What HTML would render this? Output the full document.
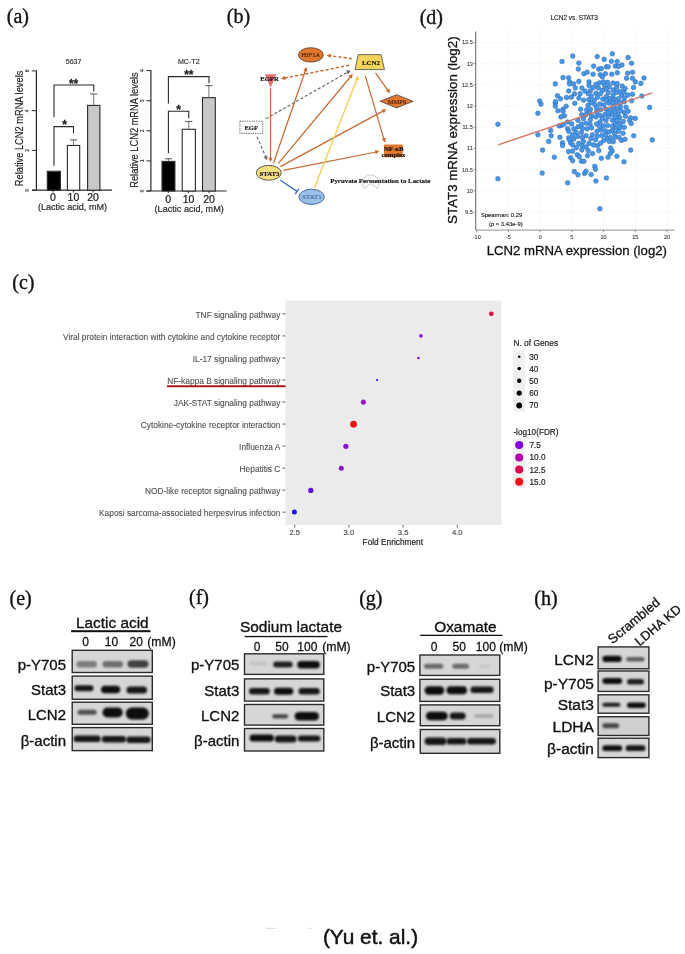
<!DOCTYPE html>
<html><head><meta charset="utf-8"><style>
html,body{margin:0;padding:0;background:#fff;}
svg{display:block;will-change:transform;}
</style></head><body>
<svg width="685" height="954" viewBox="0 0 685 954">
<rect width="685" height="954" fill="#fff"/>
<text x="6.8" y="23.4" font-family='"Liberation Serif", serif' font-size="20" font-weight="normal" text-anchor="start" fill="#111" stroke="#111" stroke-width="0.35" >(a)</text>
<text x="226.8" y="23.4" font-family='"Liberation Serif", serif' font-size="20" font-weight="normal" text-anchor="start" fill="#111" stroke="#111" stroke-width="0.35" >(b)</text>
<text x="12.3" y="289" font-family='"Liberation Serif", serif' font-size="20" font-weight="normal" text-anchor="start" fill="#111" stroke="#111" stroke-width="0.35" >(c)</text>
<text x="419.7" y="23.6" font-family='"Liberation Serif", serif' font-size="20" font-weight="normal" text-anchor="start" fill="#111" stroke="#111" stroke-width="0.35" >(d)</text>
<text x="9.5" y="604.6" font-family='"Liberation Serif", serif' font-size="20" font-weight="normal" text-anchor="start" fill="#111" stroke="#111" stroke-width="0.35" >(e)</text>
<text x="189.0" y="604.3" font-family='"Liberation Serif", serif' font-size="20" font-weight="normal" text-anchor="start" fill="#111" stroke="#111" stroke-width="0.35" >(f)</text>
<text x="359.2" y="604.5" font-family='"Liberation Serif", serif' font-size="20" font-weight="normal" text-anchor="start" fill="#111" stroke="#111" stroke-width="0.35" >(g)</text>
<text x="534.3" y="604.6" font-family='"Liberation Serif", serif' font-size="20" font-weight="normal" text-anchor="start" fill="#111" stroke="#111" stroke-width="0.35" >(h)</text>
<line x1="36.4" y1="70.4" x2="36.4" y2="190.2" stroke="#2a2a2a" stroke-width="1.2" />
<line x1="32" y1="190.2" x2="112.0" y2="190.2" stroke="#2a2a2a" stroke-width="1.2" />
<line x1="31.9" y1="190.2" x2="36.4" y2="190.2" stroke="#2a2a2a" stroke-width="1.0" />
<text x="0" y="0" transform="translate(29.1,190.2) rotate(-90)" font-family='"Liberation Sans", sans-serif' font-size="5.2" font-weight="bold" text-anchor="middle" fill="#333">0</text>
<line x1="31.9" y1="150.43333333333334" x2="36.4" y2="150.43333333333334" stroke="#2a2a2a" stroke-width="1.0" />
<text x="0" y="0" transform="translate(29.1,150.4) rotate(-90)" font-family='"Liberation Sans", sans-serif' font-size="5.2" font-weight="bold" text-anchor="middle" fill="#333">2</text>
<line x1="31.9" y1="110.66666666666667" x2="36.4" y2="110.66666666666667" stroke="#2a2a2a" stroke-width="1.0" />
<text x="0" y="0" transform="translate(29.1,110.7) rotate(-90)" font-family='"Liberation Sans", sans-serif' font-size="5.2" font-weight="bold" text-anchor="middle" fill="#333">4</text>
<line x1="31.9" y1="70.9" x2="36.4" y2="70.9" stroke="#2a2a2a" stroke-width="1.0" />
<text x="0" y="0" transform="translate(29.1,70.9) rotate(-90)" font-family='"Liberation Sans", sans-serif' font-size="5.2" font-weight="bold" text-anchor="middle" fill="#333">6</text>
<rect x="47.3" y="171.31083333333333" width="13.100000000000001" height="18.889166666666654" fill="#000" stroke="#2a2a2a" stroke-width="1.1"/>
<line x1="53.849999999999994" y1="171.31083333333333" x2="53.849999999999994" y2="171.31083333333333" stroke="#666" stroke-width="0.9" />
<line x1="50.24999999999999" y1="171.31083333333333" x2="57.449999999999996" y2="171.31083333333333" stroke="#555" stroke-width="1.0" />
<rect x="67.4" y="145.4625" width="12.299999999999997" height="44.73749999999998" fill="#fff" stroke="#2a2a2a" stroke-width="1.1"/>
<line x1="73.55000000000001" y1="145.4625" x2="73.55000000000001" y2="139.89516666666668" stroke="#666" stroke-width="0.9" />
<line x1="69.95000000000002" y1="139.89516666666668" x2="77.15" y2="139.89516666666668" stroke="#555" stroke-width="1.0" />
<rect x="87.6" y="105.39758333333334" width="12.300000000000011" height="84.80241666666664" fill="#c8c8c8" stroke="#2a2a2a" stroke-width="1.1"/>
<line x1="93.75" y1="105.39758333333334" x2="93.75" y2="93.96466666666667" stroke="#666" stroke-width="0.9" />
<line x1="90.15" y1="93.96466666666667" x2="97.35" y2="93.96466666666667" stroke="#555" stroke-width="1.0" />
<polyline points="54.0,165.8 54.0,126.6 73.5,126.6 73.5,133.4" fill="none" stroke="#2a2a2a" stroke-width="1.1"/>
<text x="64.6" y="129.3" font-family='"Liberation Sans", sans-serif' font-size="12" font-weight="bold" text-anchor="middle" fill="#222" stroke="#222" stroke-width="0.264" >*</text>
<polyline points="54.0,117.2 54.0,85.0 93.8,85.0 93.8,91.4" fill="none" stroke="#2a2a2a" stroke-width="1.1"/>
<text x="73.6" y="87.6" font-family='"Liberation Sans", sans-serif' font-size="12" font-weight="bold" text-anchor="middle" fill="#222" stroke="#222" stroke-width="0.264" >**</text>
<text x="73.6" y="63.9" font-family='"Liberation Sans", sans-serif' font-size="7.1" font-weight="normal" text-anchor="middle" fill="#333" stroke="#333" stroke-width="0.156" >5637</text>
<text x="53.0" y="201.3" font-family='"Liberation Sans", sans-serif' font-size="10.5" font-weight="normal" text-anchor="middle" fill="#1a1a1a" stroke="#1a1a1a" stroke-width="0.231" >0</text>
<line x1="53.0" y1="190.2" x2="53.0" y2="192.39999999999998" stroke="#2a2a2a" stroke-width="1.0" />
<text x="73.4" y="201.3" font-family='"Liberation Sans", sans-serif' font-size="10.5" font-weight="normal" text-anchor="middle" fill="#1a1a1a" stroke="#1a1a1a" stroke-width="0.231" >10</text>
<line x1="73.4" y1="190.2" x2="73.4" y2="192.39999999999998" stroke="#2a2a2a" stroke-width="1.0" />
<text x="93.1" y="201.3" font-family='"Liberation Sans", sans-serif' font-size="10.5" font-weight="normal" text-anchor="middle" fill="#1a1a1a" stroke="#1a1a1a" stroke-width="0.231" >20</text>
<line x1="93.1" y1="190.2" x2="93.1" y2="192.39999999999998" stroke="#2a2a2a" stroke-width="1.0" />
<text x="72.5" y="210.2" font-family='"Liberation Sans", sans-serif' font-size="9.1" font-weight="normal" text-anchor="middle" fill="#2a2a2a" stroke="#2a2a2a" stroke-width="0.2" >(Lactic acid, mM)</text>
<text x="0" y="0" transform="translate(23.0,128.4) rotate(-90)" font-family='"Liberation Sans", sans-serif' font-size="10" text-anchor="middle" textLength="115.5" lengthAdjust="spacingAndGlyphs" fill="#1a1a1a" stroke="#1a1a1a" stroke-width="0.15">Relative LCN2 mRNA levels</text>
<line x1="150.9" y1="70.1" x2="150.9" y2="191.0" stroke="#2a2a2a" stroke-width="1.2" />
<line x1="146.5" y1="191.0" x2="226.5" y2="191.0" stroke="#2a2a2a" stroke-width="1.2" />
<line x1="146.4" y1="191.0" x2="150.9" y2="191.0" stroke="#2a2a2a" stroke-width="1.0" />
<text x="0" y="0" transform="translate(143.6,191.0) rotate(-90)" font-family='"Liberation Sans", sans-serif' font-size="5.2" font-weight="bold" text-anchor="middle" fill="#333">0</text>
<line x1="146.4" y1="160.9" x2="150.9" y2="160.9" stroke="#2a2a2a" stroke-width="1.0" />
<text x="0" y="0" transform="translate(143.6,160.9) rotate(-90)" font-family='"Liberation Sans", sans-serif' font-size="5.2" font-weight="bold" text-anchor="middle" fill="#333">1</text>
<line x1="146.4" y1="130.8" x2="150.9" y2="130.8" stroke="#2a2a2a" stroke-width="1.0" />
<text x="0" y="0" transform="translate(143.6,130.8) rotate(-90)" font-family='"Liberation Sans", sans-serif' font-size="5.2" font-weight="bold" text-anchor="middle" fill="#333">2</text>
<line x1="146.4" y1="100.69999999999999" x2="150.9" y2="100.69999999999999" stroke="#2a2a2a" stroke-width="1.0" />
<text x="0" y="0" transform="translate(143.6,100.7) rotate(-90)" font-family='"Liberation Sans", sans-serif' font-size="5.2" font-weight="bold" text-anchor="middle" fill="#333">3</text>
<line x1="146.4" y1="70.6" x2="150.9" y2="70.6" stroke="#2a2a2a" stroke-width="1.0" />
<text x="0" y="0" transform="translate(143.6,70.6) rotate(-90)" font-family='"Liberation Sans", sans-serif' font-size="5.2" font-weight="bold" text-anchor="middle" fill="#333">4</text>
<rect x="162.0" y="161.4117" width="12.900000000000006" height="29.588300000000004" fill="#000" stroke="#2a2a2a" stroke-width="1.1"/>
<line x1="168.45" y1="161.4117" x2="168.45" y2="158.793" stroke="#666" stroke-width="0.9" />
<line x1="164.85" y1="158.793" x2="172.04999999999998" y2="158.793" stroke="#555" stroke-width="1.0" />
<rect x="182.2" y="129.29500000000002" width="13.200000000000017" height="61.704999999999984" fill="#fff" stroke="#2a2a2a" stroke-width="1.1"/>
<line x1="188.8" y1="129.29500000000002" x2="188.8" y2="121.4088" stroke="#666" stroke-width="0.9" />
<line x1="185.20000000000002" y1="121.4088" x2="192.4" y2="121.4088" stroke="#555" stroke-width="1.0" />
<rect x="202.5" y="97.69" width="12.800000000000011" height="93.31" fill="#c8c8c8" stroke="#2a2a2a" stroke-width="1.1"/>
<line x1="208.9" y1="97.69" x2="208.9" y2="85.64999999999999" stroke="#666" stroke-width="0.9" />
<line x1="205.3" y1="85.64999999999999" x2="212.5" y2="85.64999999999999" stroke="#555" stroke-width="1.0" />
<polyline points="168.4,153.3 168.4,111.3 188.7,111.3 188.7,118.2" fill="none" stroke="#2a2a2a" stroke-width="1.1"/>
<text x="178.7" y="113.69999999999999" font-family='"Liberation Sans", sans-serif' font-size="12" font-weight="bold" text-anchor="middle" fill="#222" stroke="#222" stroke-width="0.264" >*</text>
<polyline points="168.4,103.5 168.4,76.6 209.0,76.6 209.0,83.3" fill="none" stroke="#2a2a2a" stroke-width="1.1"/>
<text x="188.8" y="79.0" font-family='"Liberation Sans", sans-serif' font-size="12" font-weight="bold" text-anchor="middle" fill="#222" stroke="#222" stroke-width="0.264" >**</text>
<text x="188.8" y="63.9" font-family='"Liberation Sans", sans-serif' font-size="7.1" font-weight="normal" text-anchor="middle" fill="#333" stroke="#333" stroke-width="0.156" >MC-T2</text>
<text x="168.2" y="202.6" font-family='"Liberation Sans", sans-serif' font-size="10.5" font-weight="normal" text-anchor="middle" fill="#1a1a1a" stroke="#1a1a1a" stroke-width="0.231" >0</text>
<line x1="168.2" y1="191.0" x2="168.2" y2="193.2" stroke="#2a2a2a" stroke-width="1.0" />
<text x="188.6" y="202.6" font-family='"Liberation Sans", sans-serif' font-size="10.5" font-weight="normal" text-anchor="middle" fill="#1a1a1a" stroke="#1a1a1a" stroke-width="0.231" >10</text>
<line x1="188.6" y1="191.0" x2="188.6" y2="193.2" stroke="#2a2a2a" stroke-width="1.0" />
<text x="209.0" y="202.6" font-family='"Liberation Sans", sans-serif' font-size="10.5" font-weight="normal" text-anchor="middle" fill="#1a1a1a" stroke="#1a1a1a" stroke-width="0.231" >20</text>
<line x1="209.0" y1="191.0" x2="209.0" y2="193.2" stroke="#2a2a2a" stroke-width="1.0" />
<text x="189.2" y="212.4" font-family='"Liberation Sans", sans-serif' font-size="9.1" font-weight="normal" text-anchor="middle" fill="#2a2a2a" stroke="#2a2a2a" stroke-width="0.2" >(Lactic acid, mM)</text>
<text x="0" y="0" transform="translate(138.0,130.0) rotate(-90)" font-family='"Liberation Sans", sans-serif' font-size="10" text-anchor="middle" textLength="115.5" lengthAdjust="spacingAndGlyphs" fill="#1a1a1a" stroke="#1a1a1a" stroke-width="0.15">Relative LCN2 mRNA levels</text>
<line x1="351.8" y1="58.7" x2="329.9" y2="55.7" stroke="#c8672e" stroke-width="1.4" stroke-dasharray="3.2,2"/>
<polygon points="326.6,55.3 331.1,53.7 330.5,58.0" fill="#c8672e"/>
<line x1="349.2" y1="65.3" x2="284.4" y2="78.1" stroke="#c8672e" stroke-width="1.4" stroke-dasharray="3.2,2"/>
<polygon points="281.1,78.7 284.8,75.7 285.6,80.0" fill="#c8672e"/>
<line x1="265.8" y1="118.8" x2="347.8" y2="72.1" stroke="#6a6a6a" stroke-width="1.2" stroke-dasharray="3,2"/>
<polygon points="350.7,70.4 348.1,74.4 346.0,70.6" fill="#6a6a6a"/>
<line x1="257.0" y1="136.8" x2="265.9" y2="157.2" stroke="#6a6a6a" stroke-width="1.2" stroke-dasharray="3,2"/>
<polygon points="267.2,160.3 263.5,157.3 267.5,155.6" fill="#6a6a6a"/>
<line x1="270.5" y1="88.2" x2="270.5" y2="158.6" stroke="#c8672e" stroke-width="1.2"/>
<polygon points="270.5,162.0 268.3,157.8 272.7,157.8" fill="#c8672e"/>
<line x1="273.6" y1="162.8" x2="305.5" y2="70.2" stroke="#c8672e" stroke-width="1.2"/>
<polygon points="306.6,67.0 307.3,71.7 303.2,70.3" fill="#c8672e"/>
<line x1="278.4" y1="163.4" x2="350.7" y2="76.5" stroke="#c8672e" stroke-width="1.2"/>
<polygon points="352.8,73.9 351.8,78.5 348.4,75.7" fill="#c8672e"/>
<line x1="280.4" y1="166.6" x2="383.4" y2="110.9" stroke="#c8672e" stroke-width="1.2"/>
<polygon points="386.4,109.3 383.8,113.2 381.7,109.4" fill="#c8672e"/>
<line x1="283.3" y1="170.3" x2="376.1" y2="152.0" stroke="#c8672e" stroke-width="1.2"/>
<polygon points="379.4,151.3 375.7,154.3 374.9,150.0" fill="#c8672e"/>
<line x1="375.5" y1="72.8" x2="388.1" y2="90.6" stroke="#c8672e" stroke-width="1.2"/>
<polygon points="390.0,93.3 385.8,91.1 389.4,88.6" fill="#c8672e"/>
<line x1="365.3" y1="75.8" x2="384.0" y2="139.3" stroke="#c8672e" stroke-width="1.2"/>
<polygon points="385.0,142.5 381.7,139.1 385.9,137.8" fill="#c8672e"/>
<line x1="314.4" y1="187.9" x2="357.0" y2="78.9" stroke="#f3cc50" stroke-width="1.3"/>
<polygon points="358.2,75.8 358.7,80.5 354.6,78.9" fill="#f3cc50"/>
<line x1="280.4" y1="180.2" x2="297.0" y2="191.4" stroke="#3c64b4" stroke-width="1.3" />
<line x1="295.2102358087309" y1="194.05268621205957" x2="298.7897641912691" y2="188.74731378794044" stroke="#3c64b4" stroke-width="1.3" />
<ellipse cx="310.9" cy="54.9" rx="12.4" ry="7.2" fill="#e0772f" stroke="#5a3418" stroke-width="0.8"/>
<text x="310.9" y="57.3" font-family='"Liberation Serif", serif' font-size="6.6" font-weight="normal" text-anchor="middle" fill="#4a2208" stroke="#4a2208" stroke-width="0.145" >HIF1A</text>
<polygon points="358.2,54.6 381,54.6 384.5,69.6 355,69.6" fill="#f6d35c" stroke="#5a5a5a" stroke-width="0.9"/>
<text x="371.0" y="64.9" font-family='"Liberation Serif", serif' font-size="6.8" font-weight="bold" text-anchor="middle" fill="#111" stroke="#111" stroke-width="0.15" textLength="18" lengthAdjust="spacingAndGlyphs">LCN2</text>
<polygon points="265,74.3 276.4,74.3 270.6,87.8" fill="#e8716c"/>
<text x="269.5" y="80.9" font-family='"Liberation Serif", serif' font-size="6.8" font-weight="bold" text-anchor="middle" fill="#111" stroke="#111" stroke-width="0.15" textLength="18.6" lengthAdjust="spacingAndGlyphs">EGFR</text>
<rect x="239.9" y="121.2" width="22.8" height="12.2" fill="#fff" stroke="#555" stroke-width="0.9" stroke-dasharray="1.3,1"/>
<text x="251.2" y="130.3" font-family='"Liberation Serif", serif' font-size="7.0" font-weight="bold" text-anchor="middle" fill="#1a1a1a" stroke="#1a1a1a" stroke-width="0.154" textLength="13.6" lengthAdjust="spacingAndGlyphs">EGF</text>
<ellipse cx="268.8" cy="172.8" rx="12.5" ry="7.4" fill="#f7df84" stroke="#4a4a3a" stroke-width="0.9"/>
<text x="269.4" y="175.5" font-family='"Liberation Serif", serif' font-size="6.6" font-weight="bold" text-anchor="middle" fill="#111" stroke="#111" stroke-width="0.145" textLength="20" lengthAdjust="spacingAndGlyphs">STAT3</text>
<ellipse cx="311.6" cy="196.8" rx="12.7" ry="7.6" fill="#98c0e8" stroke="#3c5f98" stroke-width="0.9"/>
<text x="312.0" y="199.2" font-family='"Liberation Serif", serif' font-size="7.0" font-weight="normal" text-anchor="middle" fill="#4a6a9a" stroke="#4a6a9a" stroke-width="0.154" textLength="19.5" lengthAdjust="spacingAndGlyphs">STAT1</text>
<polygon points="380.1,101.3 396.6,94.7 413.1,101.3 396.6,107.9" fill="#e0772f" stroke="#444" stroke-width="0.8"/>
<text x="397.0" y="103.6" font-family='"Liberation Serif", serif' font-size="6.5" font-weight="normal" text-anchor="middle" fill="#4a2208" stroke="#4a2208" stroke-width="0.143" >MMP9</text>
<rect x="383.9" y="144.6" width="18.8" height="12.7" rx="0.5" fill="#e0772f"/>
<text x="393.7" y="150.8" font-family='"Liberation Serif", serif' font-size="6.8" font-weight="bold" text-anchor="middle" fill="#111" stroke="#111" stroke-width="0.15" >NF-κB</text>
<text x="393.5" y="156.5" font-family='"Liberation Serif", serif' font-size="7.0" font-weight="bold" text-anchor="middle" fill="#111" stroke="#111" stroke-width="0.154" textLength="24" lengthAdjust="spacingAndGlyphs">complex</text>
<path d="M364.3,188.4 A8.3,8.3 0 1 1 377.3,188.4 L370.8,183.6 Z" fill="none" stroke="#c4c4c4" stroke-width="0.9"/>
<text x="330.2" y="183.2" font-family='"Liberation Serif", serif' font-size="6.9" font-weight="bold" text-anchor="start" fill="#111" stroke="#111" stroke-width="0.152" >Pyruvate Fermentation to Lactate</text>
<rect x="285.3" y="300.5" width="216.1" height="224.4" fill="#ebebeb"/>
<text x="280.4" y="317.59999999999997" font-family='"Liberation Sans", sans-serif' font-size="8.35" font-weight="normal" text-anchor="end" fill="#4d4d4d" stroke="#4d4d4d" stroke-width="0.08" >TNF signaling pathway</text>
<line x1="282.4" y1="313.9" x2="285.3" y2="313.9" stroke="#4d4d4d" stroke-width="0.9" />
<text x="280.4" y="339.62999999999994" font-family='"Liberation Sans", sans-serif' font-size="8.35" font-weight="normal" text-anchor="end" fill="#4d4d4d" stroke="#4d4d4d" stroke-width="0.08" >Viral protein interaction with cytokine and cytokine receptor</text>
<line x1="282.4" y1="335.92999999999995" x2="285.3" y2="335.92999999999995" stroke="#4d4d4d" stroke-width="0.9" />
<text x="280.4" y="361.65999999999997" font-family='"Liberation Sans", sans-serif' font-size="8.35" font-weight="normal" text-anchor="end" fill="#4d4d4d" stroke="#4d4d4d" stroke-width="0.08" >IL-17 signaling pathway</text>
<line x1="282.4" y1="357.96" x2="285.3" y2="357.96" stroke="#4d4d4d" stroke-width="0.9" />
<text x="280.4" y="383.69" font-family='"Liberation Sans", sans-serif' font-size="8.35" font-weight="normal" text-anchor="end" fill="#4d4d4d" stroke="#4d4d4d" stroke-width="0.08" >NF-kappa B signaling pathway</text>
<line x1="282.4" y1="379.99" x2="285.3" y2="379.99" stroke="#4d4d4d" stroke-width="0.9" />
<text x="280.4" y="405.71999999999997" font-family='"Liberation Sans", sans-serif' font-size="8.35" font-weight="normal" text-anchor="end" fill="#4d4d4d" stroke="#4d4d4d" stroke-width="0.08" >JAK-STAT signaling pathway</text>
<line x1="282.4" y1="402.02" x2="285.3" y2="402.02" stroke="#4d4d4d" stroke-width="0.9" />
<text x="280.4" y="427.74999999999994" font-family='"Liberation Sans", sans-serif' font-size="8.35" font-weight="normal" text-anchor="end" fill="#4d4d4d" stroke="#4d4d4d" stroke-width="0.08" >Cytokine-cytokine receptor interaction</text>
<line x1="282.4" y1="424.04999999999995" x2="285.3" y2="424.04999999999995" stroke="#4d4d4d" stroke-width="0.9" />
<text x="280.4" y="449.78" font-family='"Liberation Sans", sans-serif' font-size="8.35" font-weight="normal" text-anchor="end" fill="#4d4d4d" stroke="#4d4d4d" stroke-width="0.08" >Influenza A</text>
<line x1="282.4" y1="446.08" x2="285.3" y2="446.08" stroke="#4d4d4d" stroke-width="0.9" />
<text x="280.4" y="471.81" font-family='"Liberation Sans", sans-serif' font-size="8.35" font-weight="normal" text-anchor="end" fill="#4d4d4d" stroke="#4d4d4d" stroke-width="0.08" >Hepatitis C</text>
<line x1="282.4" y1="468.11" x2="285.3" y2="468.11" stroke="#4d4d4d" stroke-width="0.9" />
<text x="280.4" y="493.84" font-family='"Liberation Sans", sans-serif' font-size="8.35" font-weight="normal" text-anchor="end" fill="#4d4d4d" stroke="#4d4d4d" stroke-width="0.08" >NOD-like receptor signaling pathway</text>
<line x1="282.4" y1="490.14" x2="285.3" y2="490.14" stroke="#4d4d4d" stroke-width="0.9" />
<text x="280.4" y="515.87" font-family='"Liberation Sans", sans-serif' font-size="8.35" font-weight="normal" text-anchor="end" fill="#4d4d4d" stroke="#4d4d4d" stroke-width="0.08" >Kaposi sarcoma-associated herpesvirus infection</text>
<line x1="282.4" y1="512.17" x2="285.3" y2="512.17" stroke="#4d4d4d" stroke-width="0.9" />
<line x1="294.7" y1="524.9" x2="294.7" y2="527.6" stroke="#4d4d4d" stroke-width="0.9" />
<text x="294.7" y="535.3" font-family='"Liberation Sans", sans-serif' font-size="7.6" font-weight="normal" text-anchor="middle" fill="#4d4d4d" stroke="#4d4d4d" stroke-width="0.167" >2.5</text>
<line x1="348.9" y1="524.9" x2="348.9" y2="527.6" stroke="#4d4d4d" stroke-width="0.9" />
<text x="348.9" y="535.3" font-family='"Liberation Sans", sans-serif' font-size="7.6" font-weight="normal" text-anchor="middle" fill="#4d4d4d" stroke="#4d4d4d" stroke-width="0.167" >3.0</text>
<line x1="403.1" y1="524.9" x2="403.1" y2="527.6" stroke="#4d4d4d" stroke-width="0.9" />
<text x="403.1" y="535.3" font-family='"Liberation Sans", sans-serif' font-size="7.6" font-weight="normal" text-anchor="middle" fill="#4d4d4d" stroke="#4d4d4d" stroke-width="0.167" >3.5</text>
<line x1="457.3" y1="524.9" x2="457.3" y2="527.6" stroke="#4d4d4d" stroke-width="0.9" />
<text x="457.3" y="535.3" font-family='"Liberation Sans", sans-serif' font-size="7.6" font-weight="normal" text-anchor="middle" fill="#4d4d4d" stroke="#4d4d4d" stroke-width="0.167" >4.0</text>
<text x="392.8" y="545.2" font-family='"Liberation Sans", sans-serif' font-size="8.3" font-weight="normal" text-anchor="middle" fill="#222" stroke="#222" stroke-width="0.183" >Fold Enrichment</text>
<circle cx="491.3" cy="313.8" r="2.4" fill="#dc1446"/>
<circle cx="420.9" cy="335.9" r="1.8" fill="#8a10d0"/>
<circle cx="418.4" cy="358.0" r="1.3" fill="#7a10d8"/>
<circle cx="377.1" cy="380.0" r="1.1" fill="#3010e8"/>
<circle cx="363.4" cy="402.1" r="2.6" fill="#9a1cc8"/>
<circle cx="353.6" cy="424.2" r="3.4" fill="#f01010"/>
<circle cx="345.9" cy="446.3" r="2.6" fill="#8a10d4"/>
<circle cx="341.3" cy="468.3" r="2.5" fill="#8a10d4"/>
<circle cx="310.8" cy="490.4" r="2.6" fill="#5a08ee"/>
<circle cx="294.4" cy="512.1" r="2.5" fill="#1a10f0"/>
<rect x="167.0" y="385.3" width="118.6" height="1.9" fill="#b01010"/>
<text x="513.4" y="345.6" font-family='"Liberation Sans", sans-serif' font-size="8.4" font-weight="normal" text-anchor="start" fill="#222" stroke="#222" stroke-width="0.185" >N. of Genes</text>
<rect x="513.1" y="350.4" width="12.1" height="61.4" fill="#f0f0f0"/>
<circle cx="519.2" cy="356.7" r="1.3" fill="#000"/>
<text x="529.2" y="359.59999999999997" font-family='"Liberation Sans", sans-serif' font-size="8.2" font-weight="normal" text-anchor="start" fill="#222" stroke="#222" stroke-width="0.18" >30</text>
<circle cx="519.2" cy="368.6" r="1.8" fill="#000"/>
<text x="529.2" y="371.5" font-family='"Liberation Sans", sans-serif' font-size="8.2" font-weight="normal" text-anchor="start" fill="#222" stroke="#222" stroke-width="0.18" >40</text>
<circle cx="519.2" cy="380.8" r="2.2" fill="#000"/>
<text x="529.2" y="383.7" font-family='"Liberation Sans", sans-serif' font-size="8.2" font-weight="normal" text-anchor="start" fill="#222" stroke="#222" stroke-width="0.18" >50</text>
<circle cx="519.2" cy="393.1" r="2.6" fill="#000"/>
<text x="529.2" y="396.0" font-family='"Liberation Sans", sans-serif' font-size="8.2" font-weight="normal" text-anchor="start" fill="#222" stroke="#222" stroke-width="0.18" >60</text>
<circle cx="519.2" cy="405.5" r="2.95" fill="#000"/>
<text x="529.2" y="408.4" font-family='"Liberation Sans", sans-serif' font-size="8.2" font-weight="normal" text-anchor="start" fill="#222" stroke="#222" stroke-width="0.18" >70</text>
<text x="513.4" y="435.0" font-family='"Liberation Sans", sans-serif' font-size="8.2" font-weight="normal" text-anchor="start" fill="#222" stroke="#222" stroke-width="0.18" >-log10(FDR)</text>
<rect x="513.1" y="438.7" width="12.0" height="49.0" fill="#f0f0f0"/>
<circle cx="519.2" cy="445.1" r="4.0" fill="#8000e0"/>
<text x="529.5" y="448.0" font-family='"Liberation Sans", sans-serif' font-size="8.2" font-weight="normal" text-anchor="start" fill="#222" stroke="#222" stroke-width="0.18" >7.5</text>
<circle cx="519.2" cy="457.4" r="4.0" fill="#b400aa"/>
<text x="529.5" y="460.29999999999995" font-family='"Liberation Sans", sans-serif' font-size="8.2" font-weight="normal" text-anchor="start" fill="#222" stroke="#222" stroke-width="0.18" >10.0</text>
<circle cx="519.2" cy="469.6" r="4.0" fill="#e0004c"/>
<text x="529.5" y="472.5" font-family='"Liberation Sans", sans-serif' font-size="8.2" font-weight="normal" text-anchor="start" fill="#222" stroke="#222" stroke-width="0.18" >12.5</text>
<circle cx="519.2" cy="481.7" r="4.0" fill="#ff0a14"/>
<text x="529.5" y="484.59999999999997" font-family='"Liberation Sans", sans-serif' font-size="8.2" font-weight="normal" text-anchor="start" fill="#222" stroke="#222" stroke-width="0.18" >15.0</text>
<text x="574.2" y="20.0" font-family='"Liberation Sans", sans-serif' font-size="6.45" font-weight="normal" text-anchor="middle" fill="#222" stroke="#222" stroke-width="0.142" >LCN2 vs. STAT3</text>
<line x1="475.7" y1="212.0" x2="674.8" y2="212.0" stroke="#ececec" stroke-width="0.6" stroke-dasharray="2,1.5"/>
<line x1="473.7" y1="212.0" x2="475.7" y2="212.0" stroke="#555" stroke-width="0.6" />
<text x="472.9" y="213.9" font-family='"Liberation Sans", sans-serif' font-size="5.6" font-weight="normal" text-anchor="end" fill="#444" stroke="#444" stroke-width="0.123" >9.5</text>
<line x1="475.7" y1="190.8" x2="674.8" y2="190.8" stroke="#ececec" stroke-width="0.6" stroke-dasharray="2,1.5"/>
<line x1="473.7" y1="190.8" x2="475.7" y2="190.8" stroke="#555" stroke-width="0.6" />
<text x="472.9" y="192.70000000000002" font-family='"Liberation Sans", sans-serif' font-size="5.6" font-weight="normal" text-anchor="end" fill="#444" stroke="#444" stroke-width="0.123" >10</text>
<line x1="475.7" y1="169.60000000000002" x2="674.8" y2="169.60000000000002" stroke="#ececec" stroke-width="0.6" stroke-dasharray="2,1.5"/>
<line x1="473.7" y1="169.60000000000002" x2="475.7" y2="169.60000000000002" stroke="#555" stroke-width="0.6" />
<text x="472.9" y="171.50000000000003" font-family='"Liberation Sans", sans-serif' font-size="5.6" font-weight="normal" text-anchor="end" fill="#444" stroke="#444" stroke-width="0.123" >10.5</text>
<line x1="475.7" y1="148.4" x2="674.8" y2="148.4" stroke="#ececec" stroke-width="0.6" stroke-dasharray="2,1.5"/>
<line x1="473.7" y1="148.4" x2="475.7" y2="148.4" stroke="#555" stroke-width="0.6" />
<text x="472.9" y="150.3" font-family='"Liberation Sans", sans-serif' font-size="5.6" font-weight="normal" text-anchor="end" fill="#444" stroke="#444" stroke-width="0.123" >11</text>
<line x1="475.7" y1="127.20000000000002" x2="674.8" y2="127.20000000000002" stroke="#ececec" stroke-width="0.6" stroke-dasharray="2,1.5"/>
<line x1="473.7" y1="127.20000000000002" x2="475.7" y2="127.20000000000002" stroke="#555" stroke-width="0.6" />
<text x="472.9" y="129.10000000000002" font-family='"Liberation Sans", sans-serif' font-size="5.6" font-weight="normal" text-anchor="end" fill="#444" stroke="#444" stroke-width="0.123" >11.5</text>
<line x1="475.7" y1="106.00000000000001" x2="674.8" y2="106.00000000000001" stroke="#ececec" stroke-width="0.6" stroke-dasharray="2,1.5"/>
<line x1="473.7" y1="106.00000000000001" x2="475.7" y2="106.00000000000001" stroke="#555" stroke-width="0.6" />
<text x="472.9" y="107.90000000000002" font-family='"Liberation Sans", sans-serif' font-size="5.6" font-weight="normal" text-anchor="end" fill="#444" stroke="#444" stroke-width="0.123" >12</text>
<line x1="475.7" y1="84.80000000000001" x2="674.8" y2="84.80000000000001" stroke="#ececec" stroke-width="0.6" stroke-dasharray="2,1.5"/>
<line x1="473.7" y1="84.80000000000001" x2="475.7" y2="84.80000000000001" stroke="#555" stroke-width="0.6" />
<text x="472.9" y="86.70000000000002" font-family='"Liberation Sans", sans-serif' font-size="5.6" font-weight="normal" text-anchor="end" fill="#444" stroke="#444" stroke-width="0.123" >12.5</text>
<line x1="475.7" y1="63.60000000000002" x2="674.8" y2="63.60000000000002" stroke="#ececec" stroke-width="0.6" stroke-dasharray="2,1.5"/>
<line x1="473.7" y1="63.60000000000002" x2="475.7" y2="63.60000000000002" stroke="#555" stroke-width="0.6" />
<text x="472.9" y="65.50000000000003" font-family='"Liberation Sans", sans-serif' font-size="5.6" font-weight="normal" text-anchor="end" fill="#444" stroke="#444" stroke-width="0.123" >13</text>
<line x1="475.7" y1="42.400000000000006" x2="674.8" y2="42.400000000000006" stroke="#ececec" stroke-width="0.6" stroke-dasharray="2,1.5"/>
<line x1="473.7" y1="42.400000000000006" x2="475.7" y2="42.400000000000006" stroke="#555" stroke-width="0.6" />
<text x="472.9" y="44.300000000000004" font-family='"Liberation Sans", sans-serif' font-size="5.6" font-weight="normal" text-anchor="end" fill="#444" stroke="#444" stroke-width="0.123" >13.5</text>
<line x1="476.80000000000007" y1="31.5" x2="476.80000000000007" y2="230.1" stroke="#ececec" stroke-width="0.6" stroke-dasharray="2,1.5"/>
<line x1="476.80000000000007" y1="230.1" x2="476.80000000000007" y2="232.1" stroke="#555" stroke-width="0.6" />
<text x="476.80000000000007" y="238.9" font-family='"Liberation Sans", sans-serif' font-size="5.6" font-weight="normal" text-anchor="middle" fill="#444" stroke="#444" stroke-width="0.123" >-10</text>
<line x1="508.50000000000006" y1="31.5" x2="508.50000000000006" y2="230.1" stroke="#ececec" stroke-width="0.6" stroke-dasharray="2,1.5"/>
<line x1="508.50000000000006" y1="230.1" x2="508.50000000000006" y2="232.1" stroke="#555" stroke-width="0.6" />
<text x="508.50000000000006" y="238.9" font-family='"Liberation Sans", sans-serif' font-size="5.6" font-weight="normal" text-anchor="middle" fill="#444" stroke="#444" stroke-width="0.123" >-5</text>
<line x1="540.2" y1="31.5" x2="540.2" y2="230.1" stroke="#ececec" stroke-width="0.6" stroke-dasharray="2,1.5"/>
<line x1="540.2" y1="230.1" x2="540.2" y2="232.1" stroke="#555" stroke-width="0.6" />
<text x="540.2" y="238.9" font-family='"Liberation Sans", sans-serif' font-size="5.6" font-weight="normal" text-anchor="middle" fill="#444" stroke="#444" stroke-width="0.123" >0</text>
<line x1="571.9000000000001" y1="31.5" x2="571.9000000000001" y2="230.1" stroke="#ececec" stroke-width="0.6" stroke-dasharray="2,1.5"/>
<line x1="571.9000000000001" y1="230.1" x2="571.9000000000001" y2="232.1" stroke="#555" stroke-width="0.6" />
<text x="571.9000000000001" y="238.9" font-family='"Liberation Sans", sans-serif' font-size="5.6" font-weight="normal" text-anchor="middle" fill="#444" stroke="#444" stroke-width="0.123" >5</text>
<line x1="603.6" y1="31.5" x2="603.6" y2="230.1" stroke="#ececec" stroke-width="0.6" stroke-dasharray="2,1.5"/>
<line x1="603.6" y1="230.1" x2="603.6" y2="232.1" stroke="#555" stroke-width="0.6" />
<text x="603.6" y="238.9" font-family='"Liberation Sans", sans-serif' font-size="5.6" font-weight="normal" text-anchor="middle" fill="#444" stroke="#444" stroke-width="0.123" >10</text>
<line x1="635.3000000000001" y1="31.5" x2="635.3000000000001" y2="230.1" stroke="#ececec" stroke-width="0.6" stroke-dasharray="2,1.5"/>
<line x1="635.3000000000001" y1="230.1" x2="635.3000000000001" y2="232.1" stroke="#555" stroke-width="0.6" />
<text x="635.3000000000001" y="238.9" font-family='"Liberation Sans", sans-serif' font-size="5.6" font-weight="normal" text-anchor="middle" fill="#444" stroke="#444" stroke-width="0.123" >15</text>
<line x1="667.0" y1="31.5" x2="667.0" y2="230.1" stroke="#ececec" stroke-width="0.6" stroke-dasharray="2,1.5"/>
<line x1="667.0" y1="230.1" x2="667.0" y2="232.1" stroke="#555" stroke-width="0.6" />
<text x="667.0" y="238.9" font-family='"Liberation Sans", sans-serif' font-size="5.6" font-weight="normal" text-anchor="middle" fill="#444" stroke="#444" stroke-width="0.123" >20</text>
<line x1="475.7" y1="31.5" x2="475.7" y2="230.1" stroke="#555" stroke-width="0.9" />
<line x1="475.7" y1="230.1" x2="674.8" y2="230.1" stroke="#888" stroke-width="0.9" />
<g fill="#4a98e4" stroke="#2a6cc0" stroke-width="0.6"><circle cx="572.7" cy="56.1" r="2.3"/><circle cx="562.0" cy="61.5" r="2.3"/><circle cx="578.8" cy="63.0" r="2.3"/><circle cx="578.3" cy="69.1" r="2.3"/><circle cx="597.2" cy="56.6" r="2.3"/><circle cx="604.2" cy="59.4" r="2.3"/><circle cx="593.6" cy="66.1" r="2.3"/><circle cx="598.8" cy="69.1" r="2.3"/><circle cx="601.3" cy="68.6" r="2.3"/><circle cx="606.4" cy="66.8" r="2.3"/><circle cx="583.9" cy="73.7" r="2.3"/><circle cx="587.2" cy="72.2" r="2.3"/><circle cx="593.1" cy="74.2" r="2.3"/><circle cx="600.3" cy="74.7" r="2.3"/><circle cx="602.3" cy="76.8" r="2.3"/><circle cx="605.4" cy="73.7" r="2.3"/><circle cx="563.0" cy="77.6" r="2.3"/><circle cx="568.6" cy="77.8" r="2.3"/><circle cx="578.8" cy="81.4" r="2.3"/><circle cx="555.3" cy="83.9" r="2.3"/><circle cx="569.6" cy="81.9" r="2.3"/><circle cx="569.6" cy="83.9" r="2.3"/><circle cx="573.7" cy="83.9" r="2.3"/><circle cx="575.3" cy="88.0" r="2.3"/><circle cx="581.9" cy="88.0" r="2.3"/><circle cx="585.0" cy="91.1" r="2.3"/><circle cx="589.0" cy="81.9" r="2.3"/><circle cx="589.0" cy="85.5" r="2.3"/><circle cx="612.3" cy="53.8" r="2.3"/><circle cx="628.1" cy="57.6" r="2.3"/><circle cx="611.4" cy="61.3" r="2.3"/><circle cx="617.2" cy="61.5" r="2.3"/><circle cx="631.5" cy="63.3" r="2.3"/><circle cx="608.2" cy="66.8" r="2.3"/><circle cx="615.3" cy="66.1" r="2.3"/><circle cx="618.4" cy="66.4" r="2.3"/><circle cx="622.0" cy="65.0" r="2.3"/><circle cx="611.8" cy="74.2" r="2.3"/><circle cx="617.4" cy="72.7" r="2.3"/><circle cx="627.6" cy="73.2" r="2.3"/><circle cx="632.5" cy="72.2" r="2.3"/><circle cx="643.9" cy="78.0" r="2.3"/><circle cx="640.9" cy="83.4" r="2.3"/><circle cx="635.3" cy="81.9" r="2.3"/><circle cx="632.5" cy="78.3" r="2.3"/><circle cx="626.6" cy="78.3" r="2.3"/><circle cx="633.5" cy="87.5" r="2.3"/><circle cx="632.5" cy="94.2" r="2.3"/><circle cx="641.9" cy="96.0" r="2.3"/><circle cx="649.6" cy="107.4" r="2.3"/><circle cx="631.7" cy="100.8" r="2.3"/><circle cx="541.0" cy="104.1" r="2.3"/><circle cx="555.3" cy="103.1" r="2.3"/><circle cx="555.3" cy="106.1" r="2.3"/><circle cx="557.9" cy="110.7" r="2.3"/><circle cx="563.0" cy="109.2" r="2.3"/><circle cx="563.0" cy="111.2" r="2.3"/><circle cx="561.0" cy="116.9" r="2.3"/><circle cx="564.5" cy="115.8" r="2.3"/><circle cx="561.0" cy="125.5" r="2.3"/><circle cx="563.5" cy="124.5" r="2.3"/><circle cx="567.6" cy="122.0" r="2.3"/><circle cx="550.7" cy="130.5" r="2.3"/><circle cx="551.2" cy="135.8" r="2.3"/><circle cx="548.7" cy="141.4" r="2.3"/><circle cx="559.9" cy="137.3" r="2.3"/><circle cx="562.5" cy="142.9" r="2.3"/><circle cx="562.5" cy="145.5" r="2.3"/><circle cx="542.6" cy="150.1" r="2.3"/><circle cx="554.3" cy="157.2" r="2.3"/><circle cx="567.6" cy="128.6" r="2.3"/><circle cx="568.6" cy="131.2" r="2.3"/><circle cx="568.6" cy="137.8" r="2.3"/><circle cx="569.6" cy="139.9" r="2.3"/><circle cx="570.7" cy="142.9" r="2.3"/><circle cx="572.7" cy="145.0" r="2.3"/><circle cx="568.6" cy="151.6" r="2.3"/><circle cx="572.7" cy="151.1" r="2.3"/><circle cx="570.7" cy="157.7" r="2.3"/><circle cx="572.7" cy="160.8" r="2.3"/><circle cx="577.3" cy="154.7" r="2.3"/><circle cx="579.3" cy="156.7" r="2.3"/><circle cx="581.4" cy="161.3" r="2.3"/><circle cx="583.9" cy="161.3" r="2.3"/><circle cx="587.5" cy="155.7" r="2.3"/><circle cx="592.6" cy="153.6" r="2.3"/><circle cx="598.8" cy="150.6" r="2.3"/><circle cx="601.3" cy="158.2" r="2.3"/><circle cx="608.0" cy="157.2" r="2.3"/><circle cx="594.7" cy="166.4" r="2.3"/><circle cx="652.3" cy="139.9" r="2.3"/><circle cx="633.7" cy="135.8" r="2.3"/><circle cx="630.7" cy="150.1" r="2.3"/><circle cx="624.0" cy="161.8" r="2.3"/><circle cx="616.9" cy="156.2" r="2.3"/><circle cx="610.7" cy="148.0" r="2.3"/><circle cx="612.3" cy="151.1" r="2.3"/><circle cx="610.2" cy="153.6" r="2.3"/><circle cx="621.5" cy="140.4" r="2.3"/><circle cx="625.0" cy="139.3" r="2.3"/><circle cx="623.0" cy="133.2" r="2.3"/><circle cx="635.3" cy="118.4" r="2.3"/><circle cx="630.7" cy="117.9" r="2.3"/><circle cx="629.6" cy="120.4" r="2.3"/><circle cx="631.2" cy="123.5" r="2.3"/><circle cx="617.9" cy="114.3" r="2.3"/><circle cx="625.5" cy="116.3" r="2.3"/><circle cx="624.0" cy="112.3" r="2.3"/><circle cx="628.1" cy="111.2" r="2.3"/><circle cx="626.1" cy="107.2" r="2.3"/><circle cx="620.4" cy="106.6" r="2.3"/><circle cx="542.2" cy="173.1" r="2.3"/><circle cx="567.7" cy="182.8" r="2.3"/><circle cx="588.2" cy="150.7" r="2.3"/><circle cx="574.3" cy="171.6" r="2.3"/><circle cx="578.0" cy="174.8" r="2.3"/><circle cx="584.5" cy="173.4" r="2.3"/><circle cx="586.0" cy="171.2" r="2.3"/><circle cx="591.1" cy="174.5" r="2.3"/><circle cx="595.5" cy="169.3" r="2.3"/><circle cx="595.9" cy="181.0" r="2.3"/><circle cx="606.4" cy="178.0" r="2.3"/><circle cx="599.9" cy="208.7" r="2.3"/><circle cx="497.9" cy="124.3" r="2.3"/><circle cx="497.9" cy="178.7" r="2.3"/><circle cx="539.7" cy="101.1" r="2.3"/><circle cx="555.5" cy="101.6" r="2.3"/><circle cx="537.9" cy="113.3" r="2.3"/><circle cx="537.9" cy="134.7" r="2.3"/><circle cx="559.2" cy="125.9" r="2.3"/><circle cx="597.5" cy="97.3" r="2.3"/><circle cx="602.8" cy="99.1" r="2.3"/><circle cx="613.0" cy="83.0" r="2.3"/><circle cx="598.4" cy="88.0" r="2.3"/><circle cx="627.8" cy="95.1" r="2.3"/><circle cx="621.5" cy="95.3" r="2.3"/><circle cx="613.4" cy="107.0" r="2.3"/><circle cx="608.9" cy="103.2" r="2.3"/><circle cx="618.3" cy="98.7" r="2.3"/><circle cx="603.8" cy="105.0" r="2.3"/><circle cx="605.8" cy="109.1" r="2.3"/><circle cx="593.4" cy="87.5" r="2.3"/><circle cx="613.1" cy="90.0" r="2.3"/><circle cx="608.3" cy="92.6" r="2.3"/><circle cx="624.2" cy="98.1" r="2.3"/><circle cx="616.6" cy="87.3" r="2.3"/><circle cx="599.4" cy="82.9" r="2.3"/><circle cx="604.4" cy="85.5" r="2.3"/><circle cx="599.8" cy="104.1" r="2.3"/><circle cx="595.9" cy="93.2" r="2.3"/><circle cx="600.6" cy="109.8" r="2.3"/><circle cx="623.9" cy="92.3" r="2.3"/><circle cx="606.4" cy="96.6" r="2.3"/><circle cx="613.8" cy="98.9" r="2.3"/><circle cx="588.8" cy="99.5" r="2.3"/><circle cx="613.1" cy="95.0" r="2.3"/><circle cx="616.3" cy="103.1" r="2.3"/><circle cx="602.6" cy="90.4" r="2.3"/><circle cx="622.2" cy="86.1" r="2.3"/><circle cx="609.2" cy="86.7" r="2.3"/><circle cx="620.3" cy="91.4" r="2.3"/><circle cx="624.1" cy="101.8" r="2.3"/><circle cx="594.9" cy="104.8" r="2.3"/><circle cx="591.4" cy="96.1" r="2.3"/><circle cx="616.6" cy="92.4" r="2.3"/><circle cx="590.4" cy="90.7" r="2.3"/><circle cx="600.5" cy="93.7" r="2.3"/><circle cx="617.2" cy="83.6" r="2.3"/><circle cx="610.6" cy="109.8" r="2.3"/><circle cx="594.1" cy="100.3" r="2.3"/><circle cx="609.8" cy="98.6" r="2.3"/><circle cx="625.1" cy="88.6" r="2.3"/><circle cx="607.6" cy="82.3" r="2.3"/><circle cx="617.3" cy="108.8" r="2.3"/><circle cx="603.4" cy="81.8" r="2.3"/><circle cx="588.3" cy="93.7" r="2.3"/><circle cx="590.9" cy="102.8" r="2.3"/><circle cx="595.9" cy="84.4" r="2.3"/><circle cx="596.6" cy="108.1" r="2.3"/><circle cx="620.3" cy="102.5" r="2.3"/><circle cx="612.6" cy="102.5" r="2.3"/><circle cx="606.2" cy="89.0" r="2.3"/><circle cx="606.5" cy="100.4" r="2.3"/><circle cx="593.5" cy="144.9" r="2.3"/><circle cx="577.9" cy="120.2" r="2.3"/><circle cx="583.4" cy="141.5" r="2.3"/><circle cx="591.6" cy="127.9" r="2.3"/><circle cx="600.4" cy="143.3" r="2.3"/><circle cx="591.7" cy="115.9" r="2.3"/><circle cx="577.7" cy="136.4" r="2.3"/><circle cx="595.9" cy="117.0" r="2.3"/><circle cx="581.5" cy="132.4" r="2.3"/><circle cx="603.7" cy="140.5" r="2.3"/><circle cx="583.5" cy="118.6" r="2.3"/><circle cx="592.4" cy="134.8" r="2.3"/><circle cx="586.2" cy="123.2" r="2.3"/><circle cx="601.8" cy="135.5" r="2.3"/><circle cx="597.0" cy="131.3" r="2.3"/><circle cx="590.9" cy="138.5" r="2.3"/><circle cx="581.7" cy="114.7" r="2.3"/><circle cx="586.1" cy="135.7" r="2.3"/><circle cx="605.3" cy="130.7" r="2.3"/><circle cx="577.9" cy="126.9" r="2.3"/><circle cx="601.2" cy="130.1" r="2.3"/><circle cx="609.1" cy="132.0" r="2.3"/><circle cx="607.5" cy="125.5" r="2.3"/><circle cx="589.1" cy="143.4" r="2.3"/><circle cx="597.3" cy="136.1" r="2.3"/><circle cx="578.7" cy="143.4" r="2.3"/><circle cx="582.5" cy="128.3" r="2.3"/><circle cx="573.9" cy="128.9" r="2.3"/><circle cx="571.7" cy="123.9" r="2.3"/><circle cx="607.0" cy="138.4" r="2.3"/><circle cx="600.1" cy="121.8" r="2.3"/><circle cx="590.4" cy="119.6" r="2.3"/><circle cx="576.2" cy="132.4" r="2.3"/><circle cx="572.5" cy="134.7" r="2.3"/><circle cx="596.6" cy="124.0" r="2.3"/><circle cx="595.6" cy="139.7" r="2.3"/><circle cx="602.3" cy="118.1" r="2.3"/><circle cx="587.1" cy="128.9" r="2.3"/><circle cx="582.0" cy="145.5" r="2.3"/><circle cx="582.3" cy="137.6" r="2.3"/><circle cx="603.2" cy="125.7" r="2.3"/><circle cx="573.7" cy="138.9" r="2.3"/><circle cx="581.5" cy="124.1" r="2.3"/><circle cx="606.0" cy="120.5" r="2.3"/><circle cx="586.0" cy="114.6" r="2.3"/><circle cx="590.1" cy="124.2" r="2.3"/><circle cx="597.4" cy="145.8" r="2.3"/><circle cx="599.5" cy="115.2" r="2.3"/><circle cx="619.7" cy="117.6" r="2.3"/><circle cx="615.2" cy="137.2" r="2.3"/><circle cx="613.3" cy="141.7" r="2.3"/><circle cx="604.8" cy="114.5" r="2.3"/><circle cx="612.1" cy="114.3" r="2.3"/><circle cx="624.2" cy="127.3" r="2.3"/><circle cx="612.5" cy="130.2" r="2.3"/><circle cx="612.5" cy="120.3" r="2.3"/><circle cx="620.1" cy="123.5" r="2.3"/><circle cx="618.4" cy="131.2" r="2.3"/><circle cx="616.0" cy="127.8" r="2.3"/><circle cx="623.2" cy="121.5" r="2.3"/><circle cx="608.3" cy="116.8" r="2.3"/><circle cx="612.4" cy="126.0" r="2.3"/><circle cx="615.4" cy="123.8" r="2.3"/><circle cx="618.9" cy="137.2" r="2.3"/><circle cx="615.1" cy="117.6" r="2.3"/><circle cx="610.6" cy="137.5" r="2.3"/><circle cx="614.5" cy="133.5" r="2.3"/><circle cx="614.8" cy="111.8" r="2.3"/><circle cx="608.2" cy="112.5" r="2.3"/><circle cx="605.7" cy="134.8" r="2.3"/><circle cx="609.3" cy="141.4" r="2.3"/><circle cx="620.3" cy="127.4" r="2.3"/><circle cx="617.4" cy="120.6" r="2.3"/><circle cx="620.6" cy="110.6" r="2.3"/><circle cx="599.6" cy="126.7" r="2.3"/><circle cx="586.6" cy="109.9" r="2.3"/><circle cx="590.5" cy="109.3" r="2.3"/><circle cx="596.5" cy="112.3" r="2.3"/><circle cx="588.1" cy="105.2" r="2.3"/><circle cx="589.5" cy="112.9" r="2.3"/><circle cx="566.5" cy="97.5" r="2.3"/><circle cx="578.9" cy="98.1" r="2.3"/><circle cx="580.6" cy="109.3" r="2.3"/><circle cx="574.8" cy="103.3" r="2.3"/><circle cx="560.5" cy="98.8" r="2.3"/><circle cx="566.2" cy="106.2" r="2.3"/><circle cx="580.1" cy="93.7" r="2.3"/><circle cx="557.5" cy="95.8" r="2.3"/><circle cx="574.5" cy="93.9" r="2.3"/><circle cx="583.6" cy="100.2" r="2.3"/><circle cx="571.3" cy="97.2" r="2.3"/><circle cx="568.7" cy="91.0" r="2.3"/><circle cx="576.5" cy="147.6" r="2.3"/><circle cx="586.0" cy="146.9" r="2.3"/><circle cx="581.8" cy="149.9" r="2.3"/></g>
<line x1="498.2" y1="144.8" x2="652.2" y2="92.8" stroke="#d27466" stroke-width="1.35" />
<text x="480.9" y="217.0" font-family='"Liberation Sans", sans-serif' font-size="5.8" font-weight="normal" text-anchor="start" fill="#222" stroke="#222" stroke-width="0.128" >Spearman: 0.29</text>
<text x="489.0" y="226.0" font-family='"Liberation Sans", sans-serif' font-size="5.85" font-weight="normal" text-anchor="start" fill="#222" stroke="#222" stroke-width="0.129" >(p = 3.43e-9)</text>
<text x="0" y="0" transform="translate(457.1,130.15) rotate(-90)" font-family='"Liberation Sans", sans-serif' font-size="13.7" text-anchor="middle" textLength="187.5" lengthAdjust="spacingAndGlyphs" fill="#111" stroke="#111" stroke-width="0.3">STAT3 mRNA expression (log2)</text>
<text x="576.8" y="255.3" font-family='"Liberation Sans", sans-serif' font-size="13.2" font-weight="normal" text-anchor="middle" fill="#111" stroke="#111" stroke-width="0.29" >LCN2 mRNA expression (log2)</text>
<defs><filter id="bl" x="-30%" y="-80%" width="160%" height="260%"><feGaussianBlur stdDeviation="0.9"/></filter><filter id="bl2" x="-30%" y="-80%" width="160%" height="260%"><feGaussianBlur stdDeviation="1.3"/></filter></defs>
<text x="112.3" y="627.5" font-family='"Liberation Sans", sans-serif' font-size="15.4" font-weight="normal" text-anchor="middle" fill="#111" stroke="#111" stroke-width="0.339" >Lactic acid</text>
<rect x="71.1" y="630.2" width="79.4" height="2.0" fill="#111"/>
<text x="85.6" y="645.9" font-family='"Liberation Sans", sans-serif' font-size="12" font-weight="normal" text-anchor="middle" fill="#111" stroke="#111" stroke-width="0.264" >0</text>
<text x="111.4" y="645.9" font-family='"Liberation Sans", sans-serif' font-size="12" font-weight="normal" text-anchor="middle" fill="#111" stroke="#111" stroke-width="0.264" >10</text>
<text x="136.2" y="645.9" font-family='"Liberation Sans", sans-serif' font-size="12" font-weight="normal" text-anchor="middle" fill="#111" stroke="#111" stroke-width="0.264" >20</text>
<text x="147.3" y="645.9" font-family='"Liberation Sans", sans-serif' font-size="12.2" font-weight="normal" text-anchor="start" fill="#111" stroke="#111" stroke-width="0.268" >(mM)</text>
<rect x="72.2" y="650.3" width="80.10000000000001" height="22.200000000000045" fill="#d6d6d6" stroke="#2b2b2b" stroke-width="1.4"/>
<rect x="72.2" y="676.1" width="80.10000000000001" height="23.199999999999932" fill="#d6d6d6" stroke="#2b2b2b" stroke-width="1.4"/>
<rect x="72.2" y="702.2" width="80.10000000000001" height="22.09999999999991" fill="#d6d6d6" stroke="#2b2b2b" stroke-width="1.4"/>
<rect x="72.2" y="727.6" width="80.10000000000001" height="23.0" fill="#d6d6d6" stroke="#2b2b2b" stroke-width="1.4"/>
<rect x="76.5" y="661.0" width="20.5" height="6.5" rx="3.2" fill="rgb(125,125,125)" filter="url(#bl2)"/>
<rect x="102.5" y="661.0" width="20.5" height="6.5" rx="3.2" fill="rgb(110,110,110)" filter="url(#bl2)"/>
<rect x="127.5" y="660.2" width="21.0" height="7.5" rx="3.8" fill="rgb(65,65,65)" filter="url(#bl2)"/>
<rect x="74.5" y="685.2" width="19.0" height="6.0" rx="3.0" fill="rgb(25,25,25)" filter="url(#bl)"/>
<rect x="101.0" y="685.8" width="19.2" height="7.5" rx="3.8" fill="rgb(15,15,15)" filter="url(#bl)"/>
<rect x="126.5" y="686.5" width="20.5" height="7.0" rx="3.5" fill="rgb(20,20,20)" filter="url(#bl)"/>
<rect x="77.5" y="709.8" width="19.2" height="5.0" rx="2.5" fill="rgb(80,80,80)" filter="url(#bl2)"/>
<rect x="102.5" y="707.5" width="20.2" height="10.0" rx="5.0" fill="rgb(15,15,15)" filter="url(#bl)"/>
<rect x="125.8" y="707.5" width="23.0" height="12.0" rx="6.0" fill="rgb(10,10,10)" filter="url(#bl)"/>
<rect x="73.7" y="735.6" width="26.9" height="6.5" rx="3.2" fill="rgb(20,20,20)" filter="url(#bl)"/>
<rect x="101.8" y="736.0" width="24.2" height="6.5" rx="3.2" fill="rgb(20,20,20)" filter="url(#bl)"/>
<rect x="126.3" y="736.5" width="24.3" height="6.5" rx="3.2" fill="rgb(20,20,20)" filter="url(#bl)"/>
<text x="66.0" y="669.9" font-family='"Liberation Sans", sans-serif' font-size="15" font-weight="normal" text-anchor="end" fill="#111" stroke="#111" stroke-width="0.33" >p-Y705</text>
<text x="66.0" y="695.0" font-family='"Liberation Sans", sans-serif' font-size="15" font-weight="normal" text-anchor="end" fill="#111" stroke="#111" stroke-width="0.33" >Stat3</text>
<text x="66.0" y="720.3" font-family='"Liberation Sans", sans-serif' font-size="15" font-weight="normal" text-anchor="end" fill="#111" stroke="#111" stroke-width="0.33" >LCN2</text>
<text x="66.0" y="745.8" font-family='"Liberation Sans", sans-serif' font-size="15" font-weight="normal" text-anchor="end" fill="#111" stroke="#111" stroke-width="0.33" >β-actin</text>
<text x="291.0" y="632.1" font-family='"Liberation Sans", sans-serif' font-size="15.45" font-weight="normal" text-anchor="middle" fill="#111" stroke="#111" stroke-width="0.34" >Sodium lactate</text>
<rect x="244.6" y="635.9" width="82.9" height="1.3" fill="#111"/>
<text x="257.2" y="650.9" font-family='"Liberation Sans", sans-serif' font-size="12" font-weight="normal" text-anchor="middle" fill="#111" stroke="#111" stroke-width="0.264" >0</text>
<text x="282.0" y="650.9" font-family='"Liberation Sans", sans-serif' font-size="12" font-weight="normal" text-anchor="middle" fill="#111" stroke="#111" stroke-width="0.264" >50</text>
<text x="307.3" y="650.9" font-family='"Liberation Sans", sans-serif' font-size="12" font-weight="normal" text-anchor="middle" fill="#111" stroke="#111" stroke-width="0.264" >100</text>
<text x="322.2" y="650.9" font-family='"Liberation Sans", sans-serif' font-size="12.2" font-weight="normal" text-anchor="start" fill="#111" stroke="#111" stroke-width="0.268" >(mM)</text>
<rect x="244.5" y="653.8" width="79.30000000000001" height="20.600000000000023" fill="#d6d6d6" stroke="#2b2b2b" stroke-width="1.4"/>
<rect x="244.5" y="678.9" width="79.30000000000001" height="22.200000000000045" fill="#d6d6d6" stroke="#2b2b2b" stroke-width="1.4"/>
<rect x="244.5" y="704.5" width="79.30000000000001" height="20.600000000000023" fill="#d6d6d6" stroke="#2b2b2b" stroke-width="1.4"/>
<rect x="244.5" y="728.5" width="79.30000000000001" height="22.5" fill="#d6d6d6" stroke="#2b2b2b" stroke-width="1.4"/>
<rect x="249.6" y="661.6" width="18.0" height="4.0" rx="2.0" fill="rgb(195,195,195)" filter="url(#bl2)"/>
<rect x="273.1" y="661.4" width="19.6" height="6.0" rx="3.0" fill="rgb(35,35,35)" filter="url(#bl)"/>
<rect x="297.2" y="660.9" width="22.7" height="7.5" rx="3.8" fill="rgb(15,15,15)" filter="url(#bl)"/>
<rect x="249.0" y="687.9" width="20.8" height="6.5" rx="3.2" fill="rgb(20,20,20)" filter="url(#bl)"/>
<rect x="274.0" y="687.8" width="19.3" height="7.0" rx="3.5" fill="rgb(15,15,15)" filter="url(#bl)"/>
<rect x="298.5" y="687.9" width="21.2" height="6.5" rx="3.2" fill="rgb(18,18,18)" filter="url(#bl)"/>
<rect x="272.1" y="714.2" width="16.1" height="4.2" rx="2.1" fill="rgb(70,70,70)" filter="url(#bl2)"/>
<rect x="294.6" y="712.0" width="24.4" height="8.5" rx="4.2" fill="rgb(12,12,12)" filter="url(#bl)"/>
<rect x="249.6" y="734.4" width="24.4" height="7.0" rx="3.5" fill="rgb(15,15,15)" filter="url(#bl)"/>
<rect x="274.7" y="735.4" width="21.8" height="7.0" rx="3.5" fill="rgb(18,18,18)" filter="url(#bl)"/>
<rect x="297.8" y="735.6" width="22.5" height="5.8" rx="2.9" fill="rgb(20,20,20)" filter="url(#bl)"/>
<text x="239.4" y="670.2" font-family='"Liberation Sans", sans-serif' font-size="15" font-weight="normal" text-anchor="end" fill="#111" stroke="#111" stroke-width="0.33" >p-Y705</text>
<text x="239.4" y="696.2" font-family='"Liberation Sans", sans-serif' font-size="15" font-weight="normal" text-anchor="end" fill="#111" stroke="#111" stroke-width="0.33" >Stat3</text>
<text x="239.4" y="721.0" font-family='"Liberation Sans", sans-serif' font-size="15" font-weight="normal" text-anchor="end" fill="#111" stroke="#111" stroke-width="0.33" >LCN2</text>
<text x="239.4" y="745.9" font-family='"Liberation Sans", sans-serif' font-size="15" font-weight="normal" text-anchor="end" fill="#111" stroke="#111" stroke-width="0.33" >β-actin</text>
<text x="465.4" y="631.6" font-family='"Liberation Sans", sans-serif' font-size="15.4" font-weight="normal" text-anchor="middle" fill="#111" stroke="#111" stroke-width="0.339" >Oxamate</text>
<rect x="420.2" y="634.7" width="82.3" height="1.3" fill="#111"/>
<text x="434.1" y="650.9" font-family='"Liberation Sans", sans-serif' font-size="12" font-weight="normal" text-anchor="middle" fill="#111" stroke="#111" stroke-width="0.264" >0</text>
<text x="459.3" y="650.9" font-family='"Liberation Sans", sans-serif' font-size="12" font-weight="normal" text-anchor="middle" fill="#111" stroke="#111" stroke-width="0.264" >50</text>
<text x="485.8" y="650.9" font-family='"Liberation Sans", sans-serif' font-size="12" font-weight="normal" text-anchor="middle" fill="#111" stroke="#111" stroke-width="0.264" >100</text>
<text x="499.3" y="650.9" font-family='"Liberation Sans", sans-serif' font-size="12.2" font-weight="normal" text-anchor="start" fill="#111" stroke="#111" stroke-width="0.268" >(mM)</text>
<rect x="419.9" y="655.0" width="79.90000000000003" height="20.399999999999977" fill="#d6d6d6" stroke="#2b2b2b" stroke-width="1.4"/>
<rect x="419.9" y="679.3" width="79.90000000000003" height="22.100000000000023" fill="#d6d6d6" stroke="#2b2b2b" stroke-width="1.4"/>
<rect x="420.3" y="704.9" width="79.5" height="20.800000000000068" fill="#d6d6d6" stroke="#2b2b2b" stroke-width="1.4"/>
<rect x="420.3" y="729.5" width="79.5" height="23.799999999999955" fill="#d6d6d6" stroke="#2b2b2b" stroke-width="1.4"/>
<rect x="424.0" y="663.8" width="19.3" height="5.0" rx="2.5" fill="rgb(105,105,105)" filter="url(#bl2)"/>
<rect x="452.3" y="663.8" width="16.7" height="5.0" rx="2.5" fill="rgb(105,105,105)" filter="url(#bl2)"/>
<rect x="479.2" y="664.8" width="10.3" height="3.0" rx="1.5" fill="rgb(195,195,195)" filter="url(#bl2)"/>
<rect x="424.6" y="686.2" width="19.7" height="8.5" rx="4.2" fill="rgb(12,12,12)" filter="url(#bl)"/>
<rect x="446.5" y="686.2" width="20.5" height="8.0" rx="4.0" fill="rgb(12,12,12)" filter="url(#bl)"/>
<rect x="470.5" y="686.5" width="23.1" height="6.5" rx="3.2" fill="rgb(18,18,18)" filter="url(#bl)"/>
<rect x="425.9" y="711.8" width="21.9" height="8.5" rx="4.2" fill="rgb(12,12,12)" filter="url(#bl)"/>
<rect x="449.7" y="712.5" width="16.0" height="7.0" rx="3.5" fill="rgb(25,25,25)" filter="url(#bl)"/>
<rect x="474.1" y="714.2" width="19.3" height="3.5" rx="1.8" fill="rgb(165,165,165)" filter="url(#bl2)"/>
<rect x="424.6" y="737.6" width="21.9" height="7.5" rx="3.8" fill="rgb(18,18,18)" filter="url(#bl)"/>
<rect x="446.5" y="738.1" width="19.9" height="6.5" rx="3.2" fill="rgb(22,22,22)" filter="url(#bl)"/>
<rect x="467.0" y="738.0" width="28.9" height="6.5" rx="3.2" fill="rgb(22,22,22)" filter="url(#bl)"/>
<text x="415.2" y="671.5" font-family='"Liberation Sans", sans-serif' font-size="15" font-weight="normal" text-anchor="end" fill="#111" stroke="#111" stroke-width="0.33" >p-Y705</text>
<text x="415.2" y="696.4" font-family='"Liberation Sans", sans-serif' font-size="15" font-weight="normal" text-anchor="end" fill="#111" stroke="#111" stroke-width="0.33" >Stat3</text>
<text x="415.2" y="721.8" font-family='"Liberation Sans", sans-serif' font-size="15" font-weight="normal" text-anchor="end" fill="#111" stroke="#111" stroke-width="0.33" >LCN2</text>
<text x="415.2" y="747.6" font-family='"Liberation Sans", sans-serif' font-size="15" font-weight="normal" text-anchor="end" fill="#111" stroke="#111" stroke-width="0.33" >β-actin</text>
<rect x="598.1" y="646.9" width="50.799999999999955" height="21.899999999999977" fill="#d6d6d6" stroke="#2b2b2b" stroke-width="1.4"/>
<rect x="598.1" y="671.0" width="50.799999999999955" height="20.399999999999977" fill="#d6d6d6" stroke="#2b2b2b" stroke-width="1.4"/>
<rect x="598.1" y="694.8" width="50.799999999999955" height="18.40000000000009" fill="#d6d6d6" stroke="#2b2b2b" stroke-width="1.4"/>
<rect x="598.1" y="716.7" width="50.799999999999955" height="18.799999999999955" fill="#cfcfcf" stroke="#2b2b2b" stroke-width="1.4"/>
<rect x="598.1" y="738.2" width="50.799999999999955" height="19.399999999999977" fill="#d6d6d6" stroke="#2b2b2b" stroke-width="1.4"/>
<rect x="602.4" y="655.8" width="19.3" height="6.3" rx="3.1" fill="rgb(15,15,15)" filter="url(#bl)"/>
<rect x="626.1" y="657.0" width="18.4" height="4.5" rx="2.2" fill="rgb(95,95,95)" filter="url(#bl2)"/>
<rect x="602.4" y="678.1" width="19.8" height="6.0" rx="3.0" fill="rgb(15,15,15)" filter="url(#bl)"/>
<rect x="627.0" y="678.9" width="17.0" height="5.5" rx="2.8" fill="rgb(30,30,30)" filter="url(#bl)"/>
<rect x="602.4" y="702.7" width="18.0" height="4.0" rx="2.0" fill="rgb(30,30,30)" filter="url(#bl)"/>
<rect x="627.0" y="702.5" width="18.8" height="5.5" rx="2.8" fill="rgb(12,12,12)" filter="url(#bl)"/>
<rect x="602.4" y="723.2" width="16.7" height="5.0" rx="2.5" fill="rgb(70,70,70)" filter="url(#bl2)"/>
<rect x="602.4" y="745.3" width="19.8" height="5.8" rx="2.9" fill="rgb(15,15,15)" filter="url(#bl)"/>
<rect x="625.7" y="745.3" width="19.7" height="5.8" rx="2.9" fill="rgb(18,18,18)" filter="url(#bl)"/>
<text x="593.9" y="665.3" font-family='"Liberation Sans", sans-serif' font-size="15.5" font-weight="normal" text-anchor="end" fill="#111" stroke="#111" stroke-width="0.341" >LCN2</text>
<text x="593.9" y="689.2" font-family='"Liberation Sans", sans-serif' font-size="15.5" font-weight="normal" text-anchor="end" fill="#111" stroke="#111" stroke-width="0.341" >p-Y705</text>
<text x="593.9" y="710.4" font-family='"Liberation Sans", sans-serif' font-size="15.5" font-weight="normal" text-anchor="end" fill="#111" stroke="#111" stroke-width="0.341" >Stat3</text>
<text x="593.9" y="732.4" font-family='"Liberation Sans", sans-serif' font-size="15.5" font-weight="normal" text-anchor="end" fill="#111" stroke="#111" stroke-width="0.341" >LDHA</text>
<text x="593.9" y="754.1" font-family='"Liberation Sans", sans-serif' font-size="15.5" font-weight="normal" text-anchor="end" fill="#111" stroke="#111" stroke-width="0.341" >β-actin</text>
<text x="0" y="0" transform="translate(612.6,644.4) rotate(-40)" font-family='"Liberation Sans", sans-serif' font-size="13.2" fill="#111" stroke="#111" stroke-width="0.3">Scrambled</text>
<text x="0" y="0" transform="translate(639.5,646.5) rotate(-40)" font-family='"Liberation Sans", sans-serif' font-size="13.0" fill="#111" stroke="#111" stroke-width="0.3">LDHA KD</text>
<rect x="265.5" y="927.8" width="10.5" height="1.0" fill="#d8d8d8"/>
<rect x="308.5" y="927.8" width="3" height="1.0" fill="#d8d8d8"/>
<text x="322.9" y="944.2" font-family='"Liberation Sans", sans-serif' font-size="20.9" font-weight="normal" text-anchor="start" fill="#111" stroke="#111" stroke-width="0.46" >(Yu et. al.)</text>
</svg>
</body></html>
